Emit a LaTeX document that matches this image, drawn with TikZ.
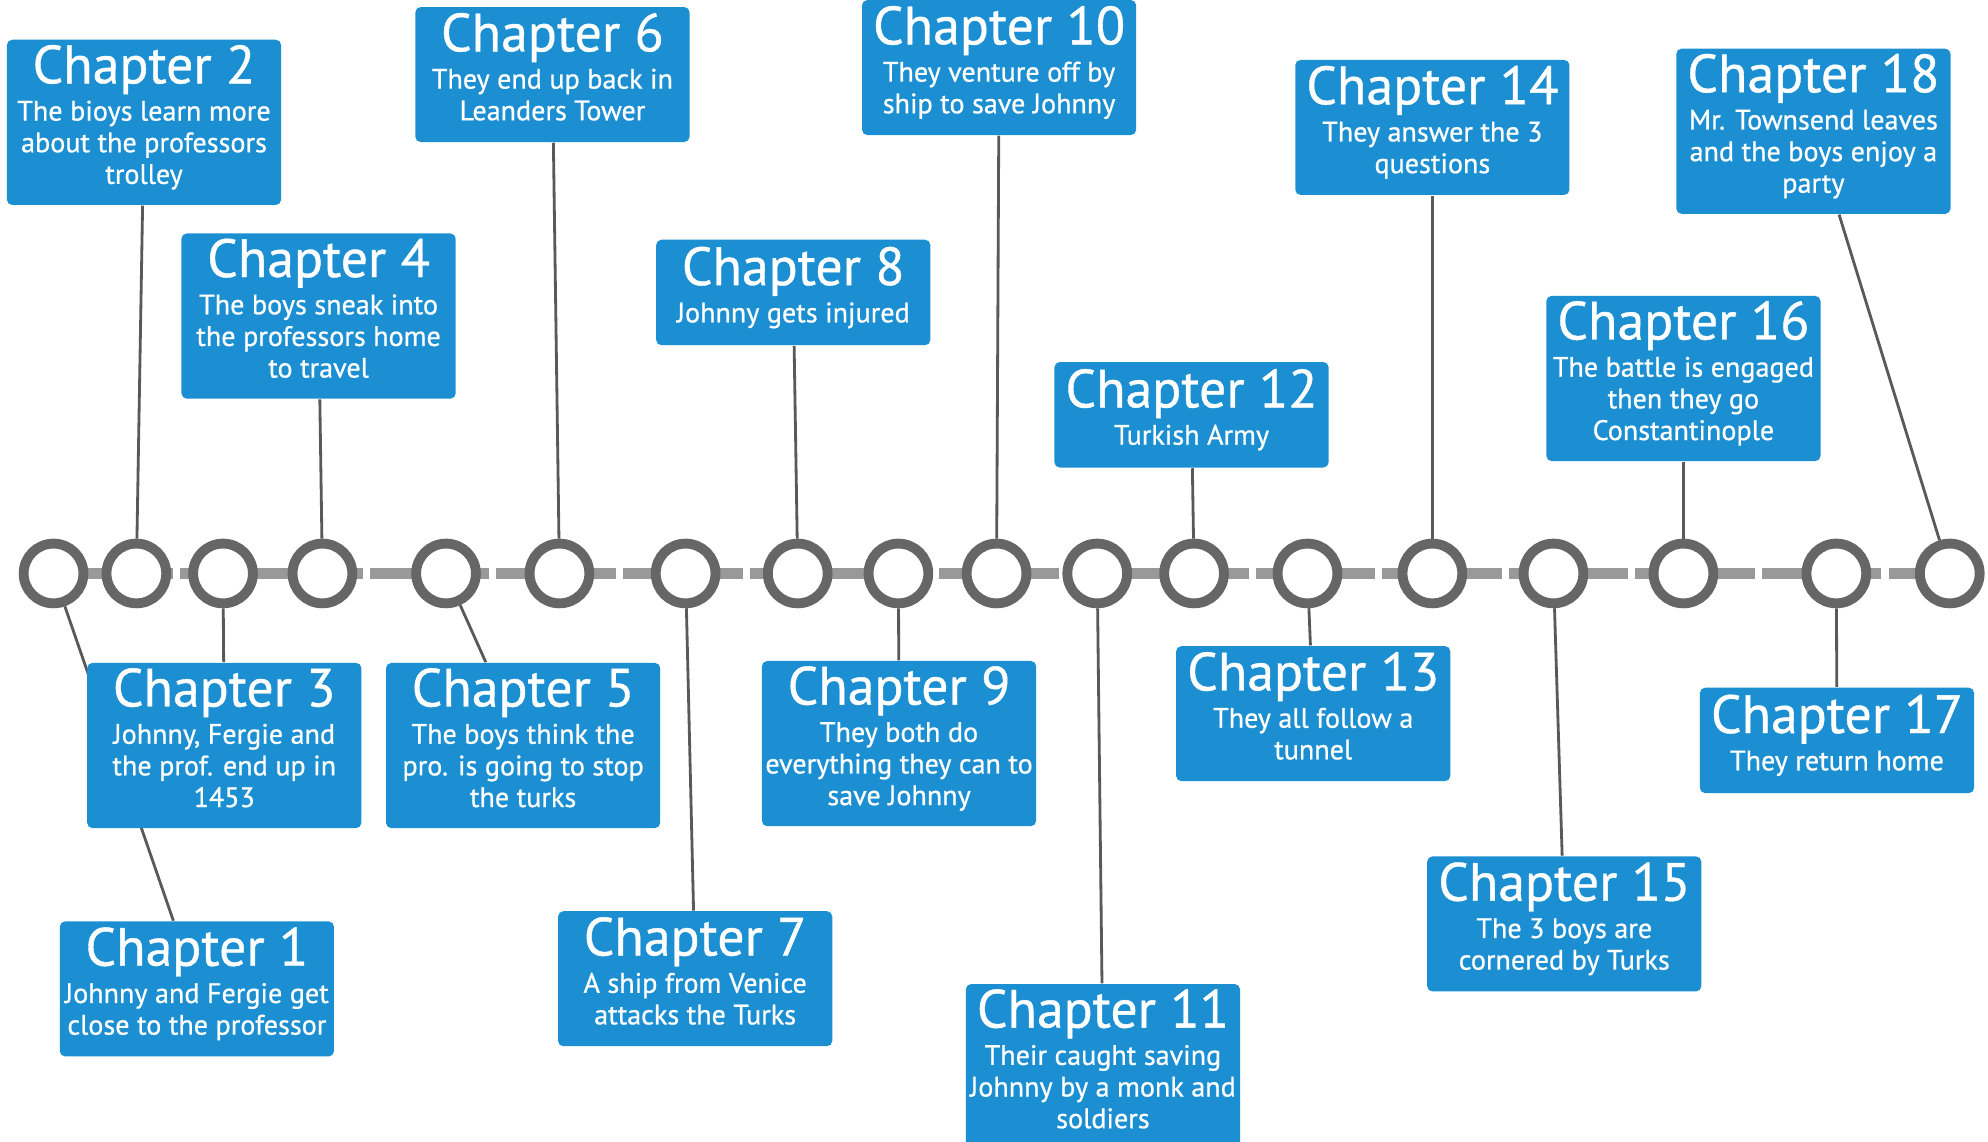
\documentclass[tikz,border=0pt]{standalone}
\usepackage{fontspec}
\setmainfont{PT Sans}
\newfontfamily\chapfont{PT Sans}[FakeBold=0.7]
\usetikzlibrary{backgrounds}
\definecolor{chapblue}{RGB}{27,143,210}
\definecolor{ringgray}{RGB}{102,102,102}
\definecolor{linegray}{RGB}{153,153,153}
\definecolor{stemgray}{RGB}{89,89,89}
\newcommand{\chaptitle}[1]{{\fontsize{15.3}{16}\selectfont #1}\\[1.6pt]}

\begin{document}
\begin{tikzpicture}[x=0.01274cm, y=-0.01274cm]
\tikzstyle{dot}=[circle, draw=ringgray, line width=2.8pt, fill=white, minimum size=17pt, inner sep=0pt]
\tikzstyle{chap}=[rectangle, rounded corners=1.5pt, fill=chapblue, text=white, align=center, minimum width=78pt, inner sep=0pt, font={\chapfont\fontsize{8}{9}\selectfont}, execute at end node={\rule[-4.5pt]{0pt}{4.5pt}}]
\tikzstyle{tall}=[chap, minimum height=47pt]
\tikzstyle{mid}=[chap, minimum height=38.4pt]
\tikzstyle{short}=[chap, minimum height=30pt]
\tikzstyle{stem}=[draw=stemgray, line width=0.8pt]
\tikzstyle{axis}=[draw=linegray, line width=2.9pt, dash pattern=on 16pt off 2pt]

  \useasboundingbox (0,0) rectangle (1560,895.6);

  % timeline dots
  \node[dot] (dot1)  at (42,450)   {};
  \node[dot] (dot2)  at (107,450)  {};
  \node[dot] (dot3)  at (175,450)  {};
  \node[dot] (dot4)  at (253,450)  {};
  \node[dot] (dot5)  at (350,450)  {};
  \node[dot] (dot6)  at (439,450)  {};
  \node[dot] (dot7)  at (538,450)  {};
  \node[dot] (dot8)  at (626,450)  {};
  \node[dot] (dot9)  at (705,450)  {};
  \node[dot] (dot10) at (782,450)  {};
  \node[dot] (dot11) at (861,450)  {};
  \node[dot] (dot12) at (937,450)  {};
  \node[dot] (dot13) at (1026,450) {};
  \node[dot] (dot14) at (1124,450) {};
  \node[dot] (dot15) at (1219,450) {};
  \node[dot] (dot16) at (1321,450) {};
  \node[dot] (dot17) at (1441,450) {};
  \node[dot] (dot18) at (1530,450) {};

  % chapters above the line
  \node[tall]  (ch2)  at (113,96)    {\chaptitle{Chapter 2}The bioys learn more\\about the professors\\trolley};
  \node[tall]  (ch4)  at (250,248)   {\chaptitle{Chapter 4}The boys sneak into\\the professors home\\to travel};
  \node[mid]   (ch6)  at (433.5,58.5){\chaptitle{Chapter 6}They end up back in\\Leanders Tower};
  \node[short] (ch8)  at (622.5,229.5){\chaptitle{Chapter 8}Johnny gets injured};
  \node[mid]   (ch10) at (784,53)    {\chaptitle{Chapter 10}They venture off by\\ship to save Johnny};
  \node[short] (ch12) at (935,325.5) {\chaptitle{Chapter 12}Turkish Army};
  \node[mid]   (ch14) at (1124,100)  {\chaptitle{Chapter 14}They answer the 3\\questions};
  \node[tall]  (ch16) at (1321,297)  {\chaptitle{Chapter 16}The battle is engaged\\then they go\\Constantinople};
  \node[tall]  (ch18) at (1423,103)  {\chaptitle{Chapter 18}Mr. Townsend leaves\\and the boys enjoy a\\party};

  % chapters below the line
  \node[mid]   (ch1)  at (154.5,776) {\chaptitle{Chapter 1}Johnny and Fergie get\\close to the professor};
  \node[tall]  (ch3)  at (176,585)   {\chaptitle{Chapter 3}Johnny, Fergie and\\the prof. end up in\\1453};
  \node[tall]  (ch5)  at (410.5,585) {\chaptitle{Chapter 5}The boys think the\\pro. is going to stop\\the turks};
  \node[mid]   (ch7)  at (545.5,768) {\chaptitle{Chapter 7}A ship from Venice\\attacks the Turks};
  \node[tall]  (ch9)  at (705.5,583.5){\chaptitle{Chapter 9}They both do\\everything they can to\\save Johnny};
  \node[tall]  (ch11) at (865.5,837) {\chaptitle{Chapter 11}Their caught saving\\Johnny by a monk and\\soldiers};
  \node[mid]   (ch13) at (1030.5,560){\chaptitle{Chapter 13}They all follow a\\tunnel};
  \node[mid]   (ch15) at (1227.5,725){\chaptitle{Chapter 15}The 3 boys are\\cornered by Turks};
  \node[short] (ch17) at (1441.5,581){\chaptitle{Chapter 17}They return home};

  \begin{pgfonlayer}{background}
    \path (dot1.center) edge [axis] (dot18.center);
    \path (ch1)  edge [stem] (dot1);
    \path (ch2)  edge [stem] (dot2);
    \path (ch3)  edge [stem] (dot3);
    \path (ch4)  edge [stem] (dot4);
    \path (ch5)  edge [stem] (dot5);
    \path (ch6)  edge [stem] (dot6);
    \path (ch7)  edge [stem] (dot7);
    \path (ch8)  edge [stem] (dot8);
    \path (ch9)  edge [stem] (dot9);
    \path (ch10) edge [stem] (dot10);
    \path (ch11) edge [stem] (dot11);
    \path (ch12) edge [stem] (dot12);
    \path (ch13) edge [stem] (dot13);
    \path (ch14) edge [stem] (dot14);
    \path (ch15) edge [stem] (dot15);
    \path (ch16) edge [stem] (dot16);
    \path (ch17) edge [stem] (dot17);
    \path (ch18) edge [stem] (dot18);
  \end{pgfonlayer}

\end{tikzpicture}
\end{document}
